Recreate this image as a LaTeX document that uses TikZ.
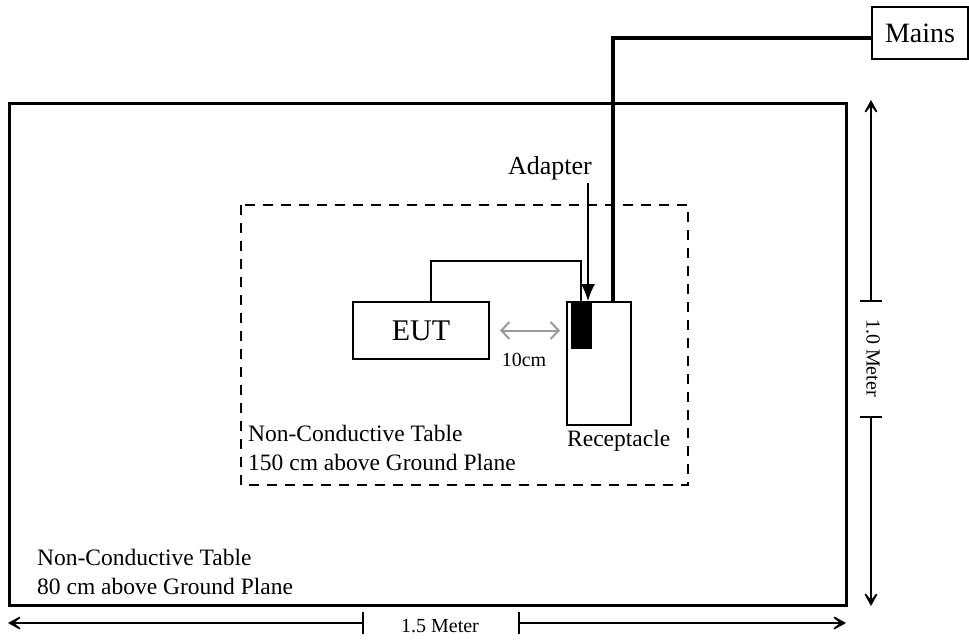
\documentclass[tikz,border=0pt]{standalone}
\usepackage{fontspec}
\setmainfont{Liberation Serif}
\usetikzlibrary{arrows.meta}
\tikzset{
  box/.style={draw,line width=2pt,inner sep=0pt},
  dimline/.style={line width=2pt},
  bigtip/.style={-{Stealth[length=19pt,width=21pt,inset=13pt]}},
  gaparrow/.style={draw=black!40,line width=2pt,
    {Straight Barb[length=8pt,width=17pt]}-{Straight Barb[length=8pt,width=17pt]}},
  tabtext/.style={anchor=west,align=left,inner sep=0pt,
    font=\fontsize{23.5}{29}\selectfont},
}
\begin{document}
\begin{tikzpicture}[x=1pt,y=-1pt]
  \useasboundingbox (0,0) rectangle (969,642);
  % the two tables
  \draw[line width=3pt] (9,103) rectangle (846,605);
  \draw[line width=2.5pt,dash pattern=on 10pt off 8pt] (241,205) rectangle (688,485);
  \node[tabtext] (bigtab) at (37,571.5) {Non-Conductive Table\\80 cm above Ground Plane};
  \node[tabtext] (smalltab) at (248,447.5) {Non-Conductive Table\\150 cm above Ground Plane};
  % equipment
  \node[box,minimum width=136pt,minimum height=57pt,
    font=\fontsize{30}{35}\selectfont] (eut) at (421,330.5) {EUT};
  \node[box,minimum width=64pt,minimum height=123pt] (rec) at (599,363.5) {};
  \node[anchor=north west,inner sep=0pt,font=\fontsize{23.5}{29}\selectfont]
    (reclabel) at (567,430) {Receptacle};
  \fill ([xshift=5pt]rec.north west) rectangle ++(21,48);
  \node[box,minimum width=96pt,minimum height=52pt,
    font=\fontsize{28}{33}\selectfont] (mains) at (920,33) {Mains};
  \node[font=\fontsize{26}{31}\selectfont] (adapter) at (550,168) {Adapter};
  % cables
  \coordinate (plug) at ([xshift=-11pt]rec.north);
  \coordinate (inlet) at ([yshift=-5pt]mains.west);
  \draw[line width=2pt] ([xshift=10pt]eut.north) -- ++(0,-40) -| ([xshift=-18pt]rec.north);
  \draw[line width=4pt] ([xshift=14pt]rec.north) |- (inlet);
  \draw[line width=1.3pt,-{Latex[length=17pt,width=14pt]}] (plug |- adapter.south) -- (plug);
  % spacing
  \coordinate (gapend) at ([xshift=-6pt]rec.west |- eut.east);
  \draw[gaparrow] ([xshift=10pt]eut.east) -- (gapend);
  \node[font=\fontsize{20}{24}\selectfont] (gaplabel) at (524,360) {10cm};
  % dimensions
  \draw[dimline,bigtip] (871,301) -- (871,100);
  \draw[dimline,bigtip] (871,417) -- (871,606);
  \foreach \y in {301,417}
    \draw[dimline] (860,\y) -- (882,\y);
  \node[rotate=-90,font=\fontsize{20}{24}\selectfont] (vlabel) at (873,358) {1.0 Meter};
  \draw[dimline,bigtip] (363,623) -- (8,623);
  \draw[dimline,bigtip] (519,623) -- (846,623);
  \foreach \x in {363,519}
    \draw[dimline] (\x,612) -- (\x,634);
  \node[font=\fontsize{20}{24}\selectfont] (hlabel) at (440,626) {1.5 Meter};
\end{tikzpicture}
\end{document}
